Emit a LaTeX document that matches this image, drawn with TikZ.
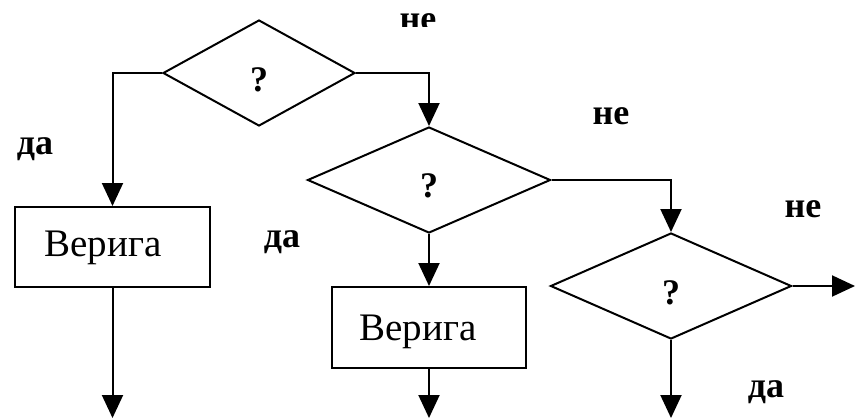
\documentclass[tikz,border=0pt]{standalone}
\usepackage{fontspec}
\setmainfont{Liberation Serif}
\usetikzlibrary{shapes.geometric,arrows.meta}
\begin{document}
\begin{tikzpicture}[x=1pt,y=-1pt,
  ln/.style={line width=2pt,line join=miter},
  arr/.style={ln,-{Triangle[width=21pt,length=23pt]}},
  dec/.style={diamond,draw,line width=2pt,inner sep=0pt},
  qm/.style={font=\bfseries\fontsize{36}{38}\selectfont,inner sep=0pt},
  blk/.style={rectangle,draw,line width=2pt,inner sep=0pt},
  btxt/.style={font=\fontsize{39}{41}\selectfont,inner sep=0pt},
  lbl/.style={font=\bfseries\fontsize{36}{38}\selectfont,inner sep=0pt}]
\useasboundingbox (0,0) rectangle (855,418);
\fill[white] (0,0) rectangle (855,418);
% decisions
\node[dec,minimum width=192pt,minimum height=106pt] (d1) at (259,73) {};
\node[dec,minimum width=243pt,minimum height=106pt] (d2) at (429,180) {};
\node[dec,minimum width=241pt,minimum height=106pt] (d3) at (671,286) {};
\node[qm] (q1) at ([yshift=-7pt]d1.center) {?};
\node[qm] (q2) at ([yshift=-6pt]d2.center) {?};
\node[qm] (q3) at ([yshift=-7pt]d3.center) {?};
% blocks
\node[blk,minimum width=195pt,minimum height=80pt] (b1) at (112.5,247) {};
\node[blk,minimum width=194pt,minimum height=81pt] (b2) at (429,327.5) {};
\node[btxt] (t1) at (103,248) {Верига};
\node[btxt] (t2) at (418,332) {Верига};
% free ends
\coordinate (e1) at (112.5,418);
\coordinate (e2) at (429,418);
\coordinate (e3) at (671,418);
\coordinate (e4) at (855,286);
% connectors
\draw[arr] (d1.west) -| (b1.north);
\draw[arr] (d1.east) -| (d2.north);
\draw[arr] (d2.east) -| (d3.north);
\draw[arr] (d2.south) -- (b2.north);
\draw[arr] (d3.east) -- (e4);
\draw[arr] (b1.south) -- (e1);
\draw[arr] (b2.south) -- (e2);
\draw[arr] (d3.south) -- (e3);
% labels
\node[lbl] (l1) at (35,149) {да};
\node[lbl] (l2) at (282,242) {да};
\node[lbl] (l3) at (766,392) {да};
\node[lbl] (l4) at (611,116) {не};
\node[lbl] (l5) at (803,209) {не};
\begin{scope}
\clip (380,0) rectangle (460,26);
\node[lbl] (l6) at (418,22) {не};
\end{scope}
\end{tikzpicture}
\end{document}
